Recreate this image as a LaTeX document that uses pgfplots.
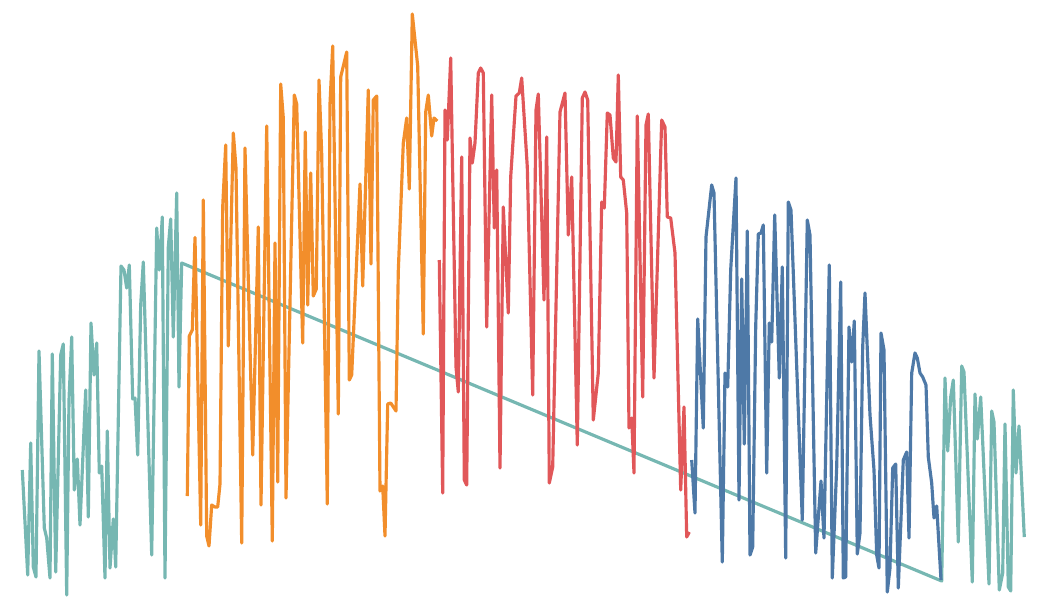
\documentclass[border=0pt]{standalone}
\usepackage{pgfplots}
\pgfplotsset{compat=1.18}
\definecolor{cteal}{HTML}{76B7B2}
\definecolor{corange}{HTML}{F28E2B}
\definecolor{cred}{HTML}{E15759}
\definecolor{cblue}{HTML}{4E79A7}
\begin{document}
\begin{tikzpicture}
\begin{axis}[
  at={(0,0)}, anchor=south west,
  scale only axis, width=10.41cm, height=6.08cm,
  xmin=0, xmax=1041, ymin=0, ymax=608, y dir=reverse,
  hide axis, clip=false,
  every axis plot/.append style={line width=0.9pt, line join=round, mark=none},
]
\addplot[cteal] coordinates {
(22.3,470) (27.7,575) (30.7,443) (33.3,567) (36,577) (39,351) (44.3,528) (46.7,538) (50,578) (52.3,354) (55.7,572) (60.7,355) (63.3,344) (66.7,595) (69,400) (71.7,337) (74.3,490) (77.3,459) (80,525) (85.7,390) (88.3,517) (91,323) (94,375) (96.7,343) (99.3,473) (101.7,466) (105,578) (107.3,431) (110,568) (113.3,519) (115.7,567) (121,266) (124,270) (126.7,288) (129.3,265) (132.7,399) (135,398) (137.7,455) (140.7,305) (143.3,262) (151.7,555) (156.7,228) (159.3,270) (162.3,217) (165,578) (168.3,247) (170.7,219) (173.3,337) (176.7,193) (179,387) (181.7,263)
(941.7,581) (945,378) (947.7,451) (950.7,397) (953.3,380) (958.3,542) (961.7,366) (964,372) (972.3,582) (975,394) (977.3,439) (980.7,397) (989,584) (991.7,411) (994,422) (999.3,590) (1002.7,573) (1005,424) (1008.3,587) (1010.7,591) (1013.3,390) (1016,473) (1019,426) (1024.3,537)
};
\addplot[corange] coordinates {
(187.3,496) (189.3,336) (192.3,330) (195,237.5) (200.7,525) (203.3,200) (206.7,536) (209,546) (211.7,505) (215,507) (217.7,507) (220,484) (222.7,207) (225.7,145) (228.3,346) (233.3,133) (236,168) (241.7,543) (245,148) (252.7,455) (258.3,227) (261,505) (266.7,126) (272.3,541) (275,243) (277.7,482) (280.7,84) (283.3,118) (286,498) (291.7,220) (294.3,95) (296.7,104) (302.7,343) (305.3,132) (307.7,305) (310.7,173) (313.3,296) (316.3,289) (319,80) (321.7,154) (327.3,504) (330,104) (332.7,46) (338.3,414) (340.7,77) (346.7,52) (349.3,380) (351.7,375) (360,184) (362.7,286) (368.3,90) (371,264) (373.3,100) (376.7,96) (380,491) (382.7,486) (385,536) (387.7,404) (390.7,403) (396,411) (398.3,271) (403.3,143) (406.7,118) (409.3,189) (412.3,14) (417.7,66) (423.3,334) (425.7,112) (428.3,95) (431.7,136) (434,118) (437.3,121)
};
\addplot[cred] coordinates {
(439.3,260) (442.7,493) (445,110) (447.3,140) (450.7,58) (456,367) (458.3,392) (461.7,157) (464.3,480) (466.7,485) (470,138) (472.3,163) (475,143) (478.3,73) (480.7,68) (483.3,73) (486.7,327) (491.7,95) (494.3,228) (496.7,170) (500,468) (503.3,207) (508.3,313) (510.7,177) (516,96) (519.3,93) (521.7,78) (527.3,167) (532.7,395) (536,110) (538.3,94) (544,300) (546.7,137) (549.3,483) (552.7,467) (560,112) (565,93) (568.3,235) (571.7,177) (577.3,445) (582.3,98) (585,92) (587.7,100) (593.3,420) (598.3,373) (601.7,202) (604.3,208) (607.3,113) (610,115) (613.3,158) (616,162) (618.3,75) (620.7,177) (623.3,180) (626.7,213) (629,428) (631.7,418) (634,473) (637.3,116) (642.7,397) (646,125) (648.3,114) (654,378) (661.7,120) (665,127) (667.3,217) (670.7,218) (675,253) (680.7,490) (684,407) (686.7,537) (689.3,532)
};
\addplot[cblue] coordinates {
(691.7,460) (695,513) (697.7,319) (703.3,428) (706,237) (711.7,185) (714,193) (722.3,562) (725,373) (727.7,387) (730.7,270) (736,178) (739,500) (741.7,279) (744.3,444) (747.3,231) (750,555) (752.7,547) (755.7,327) (758.3,234) (761,233) (763.3,225) (766.7,473) (769.3,323) (771.7,342) (774.7,215) (779.3,378) (782.3,267) (785.7,558) (788.3,202) (791,210) (802.3,520) (807.3,220) (810,235) (815.7,553) (821,481) (824,538) (829.3,265) (832.3,578) (836.7,467) (840.7,282) (843.3,578) (845.7,577) (849,327) (851.7,362) (854.3,321) (857.3,554) (860,533) (862.7,347) (865,293) (870,415) (874,470) (876.7,555) (879,568) (881,333) (884,350) (887.3,592) (890,568) (892.7,468) (895.7,464) (898.3,588) (903.3,460) (906.7,452) (909,538) (911.7,373) (915,353) (917.3,358) (920,373) (922.7,377) (926,385) (928.3,457) (931.7,483) (934,518) (936.7,506) (941,580)
};
\end{axis}
\pgfresetboundingbox
\useasboundingbox (0,0) rectangle (10.41cm,6.08cm);
\end{tikzpicture}
\end{document}
